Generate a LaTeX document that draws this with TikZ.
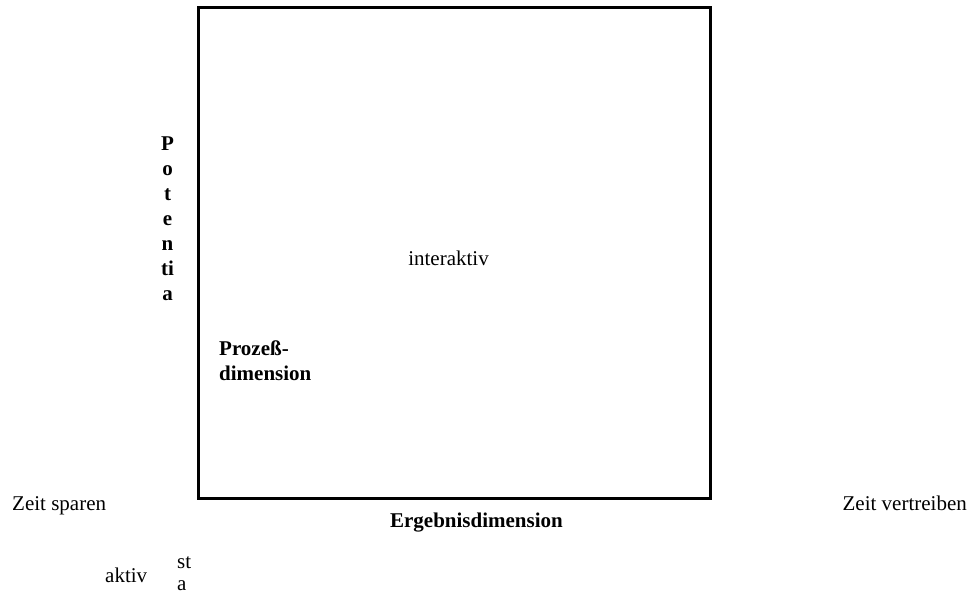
\documentclass[tikz,border=0pt]{standalone}
\usepackage{fontspec}
\setmainfont{Liberation Serif}
\begin{document}
\begin{tikzpicture}[x=1pt,y=-1pt,
  lbl/.style={inner sep=0pt,font=\fontsize{21}{25}\selectfont},
  blbl/.style={inner sep=0pt,font=\fontsize{21}{25}\selectfont\bfseries}]
\useasboundingbox (0,0) rectangle (971,594);
\draw[line width=3pt] (198.5,7.5) rectangle (710,498.5);
\node[blbl,anchor=base] (pot) at (167.5,150) {\begin{tabular}[t]{@{}c@{}}P\\o\\t\\e\\n\\ti\\a\end{tabular}};
\node[lbl,anchor=base] (inter) at (448.5,265) {interaktiv};
\node[blbl,anchor=base west] (proz) at (219,355) {\begin{tabular}[t]{@{}l@{}}Proze\ss-\\dimension\end{tabular}};
\node[lbl,anchor=base west] (zs) at (12,510) {Zeit sparen};
\node[lbl,anchor=base east] (zv) at (967,510) {Zeit vertreiben};
\node[blbl,anchor=base] (erg) at (476.5,527) {Ergebnisdimension};
\node[lbl,anchor=base west] (akt) at (105,582) {aktiv};
\node[lbl,anchor=base west,font=\fontsize{21}{22}\selectfont] (sta) at (177,568) {\begin{tabular}[t]{@{}l@{}}st\\a\end{tabular}};
\end{tikzpicture}
\end{document}
